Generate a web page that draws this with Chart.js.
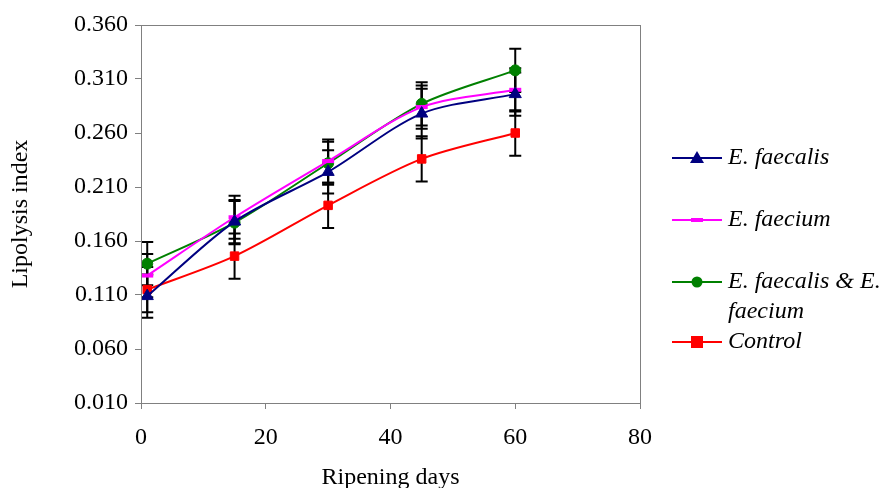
<!DOCTYPE html>
<html>
<head>
<meta charset="utf-8">
<script src="https://cdn.jsdelivr.net/npm/chart.js@4.4.1/dist/chart.umd.min.js"></script>
<style>
  html, body { margin: 0; padding: 0; background: #ffffff; }
  #wrap { width: 881px; height: 488px; position: relative; }
</style>
</head>
<body>
<div id="wrap"><canvas id="c" width="881" height="488"></canvas></div>
<script>
// ---- data ----
const days = [1, 15, 30, 45, 60];
const faecalis = [0.109, 0.178, 0.224, 0.278, 0.296];
const faecium = [0.128, 0.182, 0.234, 0.284, 0.300];
const mixed = [0.139, 0.177, 0.232, 0.287, 0.318];
const control = [0.115, 0.146, 0.193, 0.236, 0.260];
const errFaecalis = [0.020, 0.020, 0.020, 0.023, 0.020];
const errFaecium = [0.020, 0.020, 0.020, 0.020, 0.020];
const errMixed = [0.020, 0.020, 0.020, 0.020, 0.020];
const errControl = [0.021, 0.021, 0.021, 0.021, 0.021];
const seriesNames = ['E. faecalis', 'E. faecium', 'E. faecalis & E. faecium', 'Control'];
const legendLines = [['E. faecalis'], ['E. faecium'], ['E. faecalis & E.', 'faecium'], ['Control']];
const yTicks = [0.010, 0.060, 0.110, 0.160, 0.210, 0.260, 0.310, 0.360];
const xTicks = [0, 20, 40, 60, 80];

const FONT = "'Liberation Serif', 'Times New Roman', serif";

function pts(vals) { return days.map((d, i) => ({ x: d, y: vals[i] })); }

const errs = [errFaecalis, errFaecium, errMixed, errControl];

const errorBars = {
  id: 'errorBars',
  beforeDatasetsDraw(chart) {
    const ctx = chart.ctx, xs = chart.scales.x, ys = chart.scales.y;
    ctx.save();
    ctx.strokeStyle = '#000000';
    ctx.lineWidth = 2;
    chart.data.datasets.forEach((ds, di) => {
      ds.data.forEach((p, i) => {
        const e = errs[di][i];
        const x = xs.getPixelForValue(p.x);
        const y1 = ys.getPixelForValue(p.y + e);
        const y2 = ys.getPixelForValue(p.y - e);
        ctx.beginPath();
        ctx.moveTo(x, y1); ctx.lineTo(x, y2);
        ctx.moveTo(x - 6, y1); ctx.lineTo(x + 6, y1);
        ctx.moveTo(x - 6, y2); ctx.lineTo(x + 6, y2);
        ctx.stroke();
      });
    });
    ctx.restore();
  }
};

const frame = {
  id: 'frame',
  afterDraw(chart) {
    const { ctx, chartArea: a } = chart;
    ctx.save();
    ctx.strokeStyle = '#808080';
    ctx.lineWidth = 1;
    ctx.strokeRect(Math.round(a.left) + 0.5, Math.round(a.top) + 0.5,
      Math.round(a.right - a.left), Math.round(a.bottom - a.top));
    ctx.restore();
  }
};

const sideLegend = {
  id: 'sideLegend',
  afterDraw(chart) {
    const ctx = chart.ctx;
    const rows = [158, 220, 282, 342];
    ctx.save();
    ctx.font = "italic 24px " + FONT;
    ctx.textBaseline = 'middle';
    chart.data.datasets.forEach((ds, i) => {
      const y = rows[i];
      ctx.strokeStyle = ds.borderColor;
      ctx.lineWidth = 2;
      ctx.beginPath(); ctx.moveTo(672, y); ctx.lineTo(722, y); ctx.stroke();
      ctx.fillStyle = ds.pointBackgroundColor;
      ctx.beginPath();
      if (ds.pointStyle === 'triangle') {
        const r = ds.pointRadius;
        ctx.moveTo(697, y - r); ctx.lineTo(697 + r, y + r * 0.7); ctx.lineTo(697 - r, y + r * 0.7); ctx.closePath();
        ctx.fill();
      } else if (ds.pointStyle === 'rect') {
        const r = ds.pointRadius;
        ctx.fillRect(697 - r, y - r, 2 * r, 2 * r);
      } else if (ds.pointStyle === 'circle') {
        ctx.arc(697, y, ds.pointRadius, 0, Math.PI * 2); ctx.fill();
      } else {
        ctx.fillRect(691, y - 2, 12, 4);
      }
      ctx.fillStyle = '#000000';
      legendLines[i].forEach((t, k) => ctx.fillText(t, 728, y + k * 30));
    });
    ctx.restore();
  }
};

new Chart(document.getElementById('c'), {
  type: 'line',
  data: {
    datasets: [
      { label: seriesNames[0], data: pts(faecalis), borderColor: '#000080', backgroundColor: '#000080',
        pointStyle: 'triangle', pointRadius: 7, pointBorderWidth: 1, pointBackgroundColor: '#000080', pointBorderColor: '#000080' },
      { label: seriesNames[1], data: pts(faecium), borderColor: '#FF00FF', backgroundColor: '#FF00FF',
        pointStyle: 'line', pointRadius: 6, pointBorderWidth: 4, pointBackgroundColor: '#FF00FF', pointBorderColor: '#FF00FF' },
      { label: seriesNames[2], data: pts(mixed), borderColor: '#008000', backgroundColor: '#008000',
        pointStyle: 'circle', pointRadius: 5.5, pointBorderWidth: 1, pointBackgroundColor: '#008000', pointBorderColor: '#008000' },
      { label: seriesNames[3], data: pts(control), borderColor: '#FF0000', backgroundColor: '#FF0000',
        pointStyle: 'rect', pointRadius: 6, pointBorderWidth: 1, pointBackgroundColor: '#FF0000', pointBorderColor: '#FF0000' }
    ]
  },
  options: {
    responsive: false,
    animation: false,
    events: [],
    layout: { padding: { left: 0, top: 25, right: 241, bottom: 0 } },
    elements: { line: { borderWidth: 2, tension: 0.3 } },
    plugins: { legend: { display: false }, tooltip: { enabled: false } },
    scales: {
      x: {
        type: 'linear', min: 0, max: 80,
        afterFit(s) { s.height = 85; },
        afterBuildTicks(s) { s.ticks = xTicks.map(v => ({ value: v })); },
        grid: { drawOnChartArea: false, tickLength: 6, color: '#808080' },
        border: { color: '#808080' },
        ticks: { color: '#000', font: { family: FONT, size: 24 }, padding: 14, maxRotation: 0 },
        title: { display: true, text: 'Ripening days', color: '#000', font: { family: FONT, size: 24 }, padding: { top: 0, bottom: -4 } }
      },
      y: {
        min: 0.01, max: 0.36,
        afterFit(s) { s.width = 141; },
        afterBuildTicks(s) { s.ticks = yTicks.map(v => ({ value: v })); },
        grid: { drawOnChartArea: false, tickLength: 6, color: '#808080' },
        border: { color: '#808080' },
        ticks: { color: '#000', font: { family: FONT, size: 24 }, padding: 7, callback: v => Number(v).toFixed(3) },
        title: { display: true, text: 'Lipolysis index', color: '#000', font: { family: FONT, size: 24 }, padding: { top: 6, bottom: 0 } }
      }
    }
  },
  plugins: [errorBars, frame, sideLegend]
});
</script>
</body>
</html>
